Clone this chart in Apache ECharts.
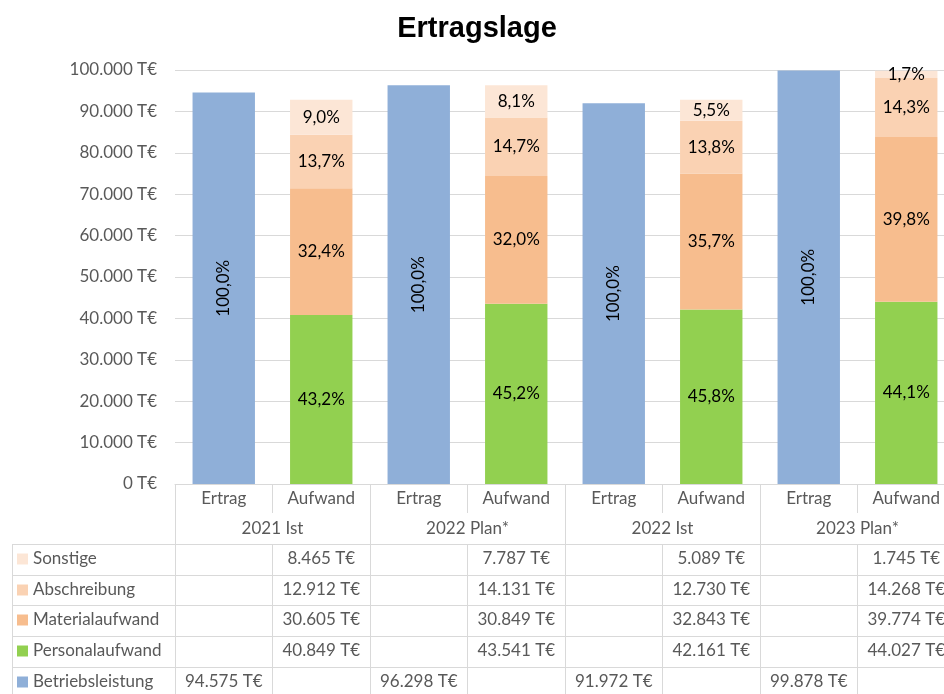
<!DOCTYPE html>
<html>
<head>
<meta charset="utf-8">
<script src="https://cdn.jsdelivr.net/npm/echarts@6/dist/echarts.min.js"></script>
<style>html,body{margin:0;padding:0;background:#fff;}#c{width:944px;height:694px;}</style>
</head>
<body>
<div id="c"></div>
<script>
const columnLabels = ['Ertrag','Aufwand','Ertrag','Aufwand','Ertrag','Aufwand','Ertrag','Aufwand'];
const yearLabels = ['2021 Ist','2022 Plan*','2022 Ist','2023 Plan*'];
const betriebsleistung = [94575, 96298, 91972, 99878];
const personalaufwand = [40849, 43541, 42161, 44027];
const materialaufwand = [30605, 30849, 32843, 39774];
const abschreibung = [12912, 14131, 12730, 14268];
const sonstige = [8465, 7787, 5089, 1745];
const yTicks = [0, 10000, 20000, 30000, 40000, 50000, 60000, 70000, 80000, 90000, 100000];
const legendOrder = ['Sonstige','Abschreibung','Materialaufwand','Personalaufwand','Betriebsleistung'];

const FONT = 'Lato';
const FS = 17;
const TXT = '#595959';
const LINE = '#d9d9d9';
const colors = {
  Betriebsleistung: '#8fafd8',
  Personalaufwand: '#92d050',
  Materialaufwand: '#f7bd8e',
  Abschreibung: '#fad2b3',
  Sonstige: '#fce6d6'
};

function fmt(v){ return String(v).replace(/\B(?=(\d{3})+(?!\d))/g, '.') + ' T€'; }
function pct(v, base){ return (v / base * 100).toFixed(1).replace('.', ',') + '%'; }
function ertragCol(arr){ const o=[]; arr.forEach(v=>{o.push(v); o.push(null);}); return o; }
function aufwandCol(arr){ const o=[]; arr.forEach(v=>{o.push(null); o.push(v);}); return o; }

const gridLeft = 175, gridTop = 70, gridBottom = 210, gridWidth = 780;
const axisY = 694 - gridBottom;
const rowCenters = [559, 590, 620, 651, 682];

function rowAxis(values, center, isErtrag){
  const row = [];
  values.forEach(v => { if (isErtrag){ row.push(fmt(v)); row.push(''); } else { row.push(''); row.push(fmt(v)); } });
  return {
    type: 'category', gridIndex: 0, position: 'bottom', offset: 0,
    data: columnLabels.map((_, i) => 'c' + i),
    axisLine: {show: false}, axisTick: {show: false}, splitLine: {show: false},
    axisLabel: {
      interval: 0, margin: center - axisY, verticalAlign: 'middle',
      fontFamily: FONT, fontSize: FS, color: TXT,
      formatter: (val, idx) => row[idx]
    }
  };
}

const labelBase = {show: true, fontFamily: FONT, fontSize: FS, color: '#000'};

function aufwandSeries(name, arr){
  return {
    name, type: 'bar', stack: 'total', barWidth: '64%', xAxisIndex: 0,
    itemStyle: {color: colors[name]},
    data: aufwandCol(arr),
    label: Object.assign({}, labelBase, {
      position: 'inside',
      formatter: p => p.value == null ? '' : pct(p.value, betriebsleistung[Math.floor(p.dataIndex/2)])
    })
  };
}

const chart = echarts.init(document.getElementById('c'), null, {renderer: 'canvas'});
const option = {
  animation: false,
  backgroundColor: '#fff',
  title: {
    text: 'Ertragslage', left: 472, top: 9, textAlign: 'center',
    textStyle: {fontFamily: 'Liberation Sans', fontWeight: 'bold', fontSize: 29, color: '#000'}
  },
  legend: legendOrder.map((name, i) => ({
    orient: 'vertical', left: 17, top: rowCenters[i] - 10, padding: 0, selectedMode: false,
    icon: 'rect', itemWidth: 11, itemHeight: 11,
    data: [name],
    textStyle: {fontFamily: FONT, fontSize: FS, color: TXT, lineHeight: 20}
  })),
  grid: {left: gridLeft, width: gridWidth, top: gridTop, bottom: gridBottom, containLabel: false, outerBoundsMode: 'none'},
  yAxis: {
    type: 'value', min: yTicks[0], max: yTicks[yTicks.length-1], interval: yTicks[1]-yTicks[0],
    axisLine: {show: false}, axisTick: {show: false},
    splitLine: {lineStyle: {color: LINE, width: 1}},
    axisLabel: {fontFamily: FONT, fontSize: FS, color: TXT, margin: 18, formatter: v => fmt(v)}
  },
  xAxis: [
    {
      type: 'category', gridIndex: 0, position: 'bottom', data: columnLabels,
      axisLine: {lineStyle: {color: LINE}},
      axisTick: {show: true, length: 29, lineStyle: {color: LINE}},
      axisLabel: {interval: 0, margin: 499 - axisY, verticalAlign: 'middle', fontFamily: FONT, fontSize: FS, color: TXT}
    },
    {
      type: 'category', gridIndex: 0, position: 'bottom', data: yearLabels,
      axisLine: {show: false},
      axisTick: {show: true, length: 215, lineStyle: {color: LINE}},
      axisLabel: {interval: 0, margin: 529 - axisY, verticalAlign: 'middle', fontFamily: FONT, fontSize: FS, color: TXT}
    },
    {
      type: 'category', gridIndex: 0, position: 'bottom', offset: 544 - axisY,
      data: columnLabels.map((_, i) => 'g' + i),
      axisLine: {show: false},
      axisTick: {show: true, length: 160, lineStyle: {color: LINE}},
      axisLabel: {show: false}
    },
    rowAxis(sonstige, rowCenters[0], false),
    rowAxis(abschreibung, rowCenters[1], false),
    rowAxis(materialaufwand, rowCenters[2], false),
    rowAxis(personalaufwand, rowCenters[3], false),
    rowAxis(betriebsleistung, rowCenters[4], true)
  ],
  series: [
    {
      name: 'Betriebsleistung', type: 'bar', stack: 'total', barWidth: '64%', xAxisIndex: 0,
      itemStyle: {color: colors.Betriebsleistung},
      data: ertragCol(betriebsleistung),
      label: Object.assign({}, labelBase, {
        position: 'inside', rotate: 90,
        formatter: p => p.value == null ? '' : pct(p.value, betriebsleistung[Math.floor(p.dataIndex/2)])
      })
    },
    aufwandSeries('Personalaufwand', personalaufwand),
    aufwandSeries('Materialaufwand', materialaufwand),
    aufwandSeries('Abschreibung', abschreibung),
    aufwandSeries('Sonstige', sonstige)
  ],
  graphic: [544, 575, 605, 636, 667].map(y => ({
    type: 'line', silent: true,
    shape: {x1: 12, y1: y + 0.5, x2: 944, y2: y + 0.5},
    style: {stroke: LINE, lineWidth: 1}
  })).concat([{
    type: 'line', silent: true,
    shape: {x1: 12.5, y1: 544, x2: 12.5, y2: 694},
    style: {stroke: LINE, lineWidth: 1}
  }])
};
chart.setOption(option);
</script>
</body>
</html>
